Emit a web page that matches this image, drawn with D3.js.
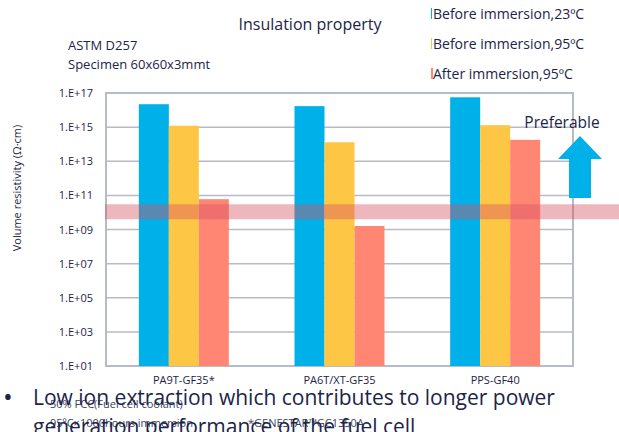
<!DOCTYPE html>
<html>
<head>
<meta charset="utf-8">
<script src="https://cdn.jsdelivr.net/npm/d3@7"></script>
<style>
  body { margin: 0; background: #fff; }
  svg { font-family: "Open Sans", "Noto Sans", sans-serif; }
  .ink { fill: #1c2448; }
</style>
</head>
<body>
<svg width="619" height="432"></svg>
<script>
// data
const categories = ['PA9T-GF35*', 'PA6T/XT-GF35', 'PPS-GF40'];
const seriesNames = ['Before immersion,23ºC', 'Before immersion,95ºC', 'After immersion,95ºC'];
const before23 = [2.2e16, 1.7e16, 5.6e16];
const before95 = [1.2e15, 1.3e14, 1.3e15];
const after95 = [6e10, 1.6e9, 1.8e14];
const tickValues = [1e1, 1e3, 1e5, 1e7, 1e9, 1e11, 1e13, 1e15, 1e17];
const tickLabels = ['1.E+01', '1.E+03', '1.E+05', '1.E+07', '1.E+09', '1.E+11', '1.E+13', '1.E+15', '1.E+17'];
const band = [4e9, 3e10];

const colors = ['#00b0e8', '#fdc745', '#ff8673'];
const series = [before23, before95, after95];

const svg = d3.select('svg');
const m = {left: 106, right: 573, top: 93, bottom: 366};

const x = d3.scaleBand().domain(categories).range([m.left, m.right]);
const xs = d3.scaleBand().domain(d3.range(3)).range([0, 90]);
const y = d3.scaleLog().domain([1e1, 1e17]).range([m.bottom, m.top]);

// grid
svg.append('g').selectAll('line')
  .data(tickValues)
  .enter().append('line')
  .attr('x1', m.left).attr('x2', m.right)
  .attr('y1', d => y(d)).attr('y2', d => y(d))
  .style('stroke', '#b7bac7').style('stroke-width', 1.5);

svg.append('rect')
  .attr('x', m.left).attr('y', m.top)
  .attr('width', m.right - m.left).attr('height', m.bottom - m.top)
  .style('fill', 'none').style('stroke', '#b7bac7').style('stroke-width', 2);

// bars
const groups = svg.append('g').selectAll('g')
  .data(categories)
  .enter().append('g')
  .attr('transform', d => `translate(${x(d) + x.bandwidth() / 2 - 45},0)`);

groups.selectAll('rect')
  .data((d, i) => series.map((s, k) => ({k: k, v: s[i]})))
  .enter().append('rect')
  .attr('x', d => xs(d.k))
  .attr('width', xs.bandwidth())
  .attr('y', d => y(d.v))
  .attr('height', d => m.bottom - y(d.v))
  .style('fill', d => colors[d.k]);

// y ticks
svg.append('g').selectAll('text')
  .data(tickValues)
  .enter().append('text')
  .attr('x', 93).attr('y', d => y(d) + 4)
  .attr('text-anchor', 'end')
  .style('font-size', '11px').attr('class', 'ink')
  .text((d, i) => tickLabels[i]);

// category labels
svg.append('g').selectAll('text')
  .data(categories)
  .enter().append('text')
  .attr('x', d => x(d) + x.bandwidth() / 2).attr('y', 384)
  .attr('text-anchor', 'middle')
  .style('font-size', '11px').attr('class', 'ink')
  .text(d => d);

// threshold band
svg.append('rect')
  .attr('x', m.left - 1).attr('width', 619 - m.left + 1)
  .attr('y', y(band[1])).attr('height', y(band[0]) - y(band[1]))
  .style('fill', 'rgb(214,81,98)').style('opacity', 0.42);

// axis title
svg.append('text')
  .attr('transform', 'translate(21,188) rotate(-90)')
  .attr('text-anchor', 'middle')
  .style('font-size', '11px').attr('class', 'ink')
  .text('Volume resistivity (Ω·cm)');

svg.append('text').attr('x', 310).attr('y', 30).attr('text-anchor', 'middle')
  .style('font-size', '16px').attr('class', 'ink').text('Insulation property');

svg.append('text').attr('x', 68).attr('y', 50)
  .style('font-size', '13px').attr('class', 'ink').text('ASTM D257');
svg.append('text').attr('x', 68).attr('y', 69)
  .style('font-size', '13px').attr('class', 'ink').text('Specimen 60x60x3mmt');

// legend
const leg = svg.append('g').selectAll('g')
  .data(seriesNames)
  .enter().append('g')
  .attr('transform', (d, i) => `translate(431,${14 + i * 30})`);
leg.append('rect').attr('x', 0).attr('y', -6).attr('width', (d, i) => i === 2 ? 2 : 1).attr('height', 11)
  .style('fill', (d, i) => colors[i]);
leg.append('text').attr('x', 2).attr('y', 5)
  .style('font-size', '14px').attr('class', 'ink').text(d => d);

// preferable arrow
svg.append('text').attr('x', 562).attr('y', 128).attr('text-anchor', 'middle')
  .style('font-size', '15.5px').attr('class', 'ink').text('Preferable');
svg.append('path')
  .attr('d', 'M580,136 L602,159 L591,159 L591,198 L569,198 L569,159 L558,159 Z')
  .style('fill', '#00b0e8');

// footer
svg.append('text').attr('x', 50).attr('y', 408)
  .style('font-size', '11px').style('fill', '#3c4360').text('50% FCC(Fuel cell coolant)');
svg.append('text').attr('x', 50).attr('y', 427)
  .style('font-size', '11px').style('fill', '#3c4360').text('95ºC×1000hours immersion');
svg.append('text').attr('x', 248).attr('y', 427)
  .style('font-size', '11px').style('fill', '#3c4360').text('*GENESTAR™GC1350A');

svg.append('text').attr('x', 3).attr('y', 406)
  .style('font-size', '26px').attr('class', 'ink').text('•');
svg.append('text').attr('x', 33).attr('y', 405)
  .style('font-size', '21px').attr('class', 'ink').text('Low ion extraction which contributes to longer power');
svg.append('text').attr('x', 33).attr('y', 434)
  .style('font-size', '21px').attr('class', 'ink').text('generation performance of the fuel cell');
</script>
</body>
</html>
